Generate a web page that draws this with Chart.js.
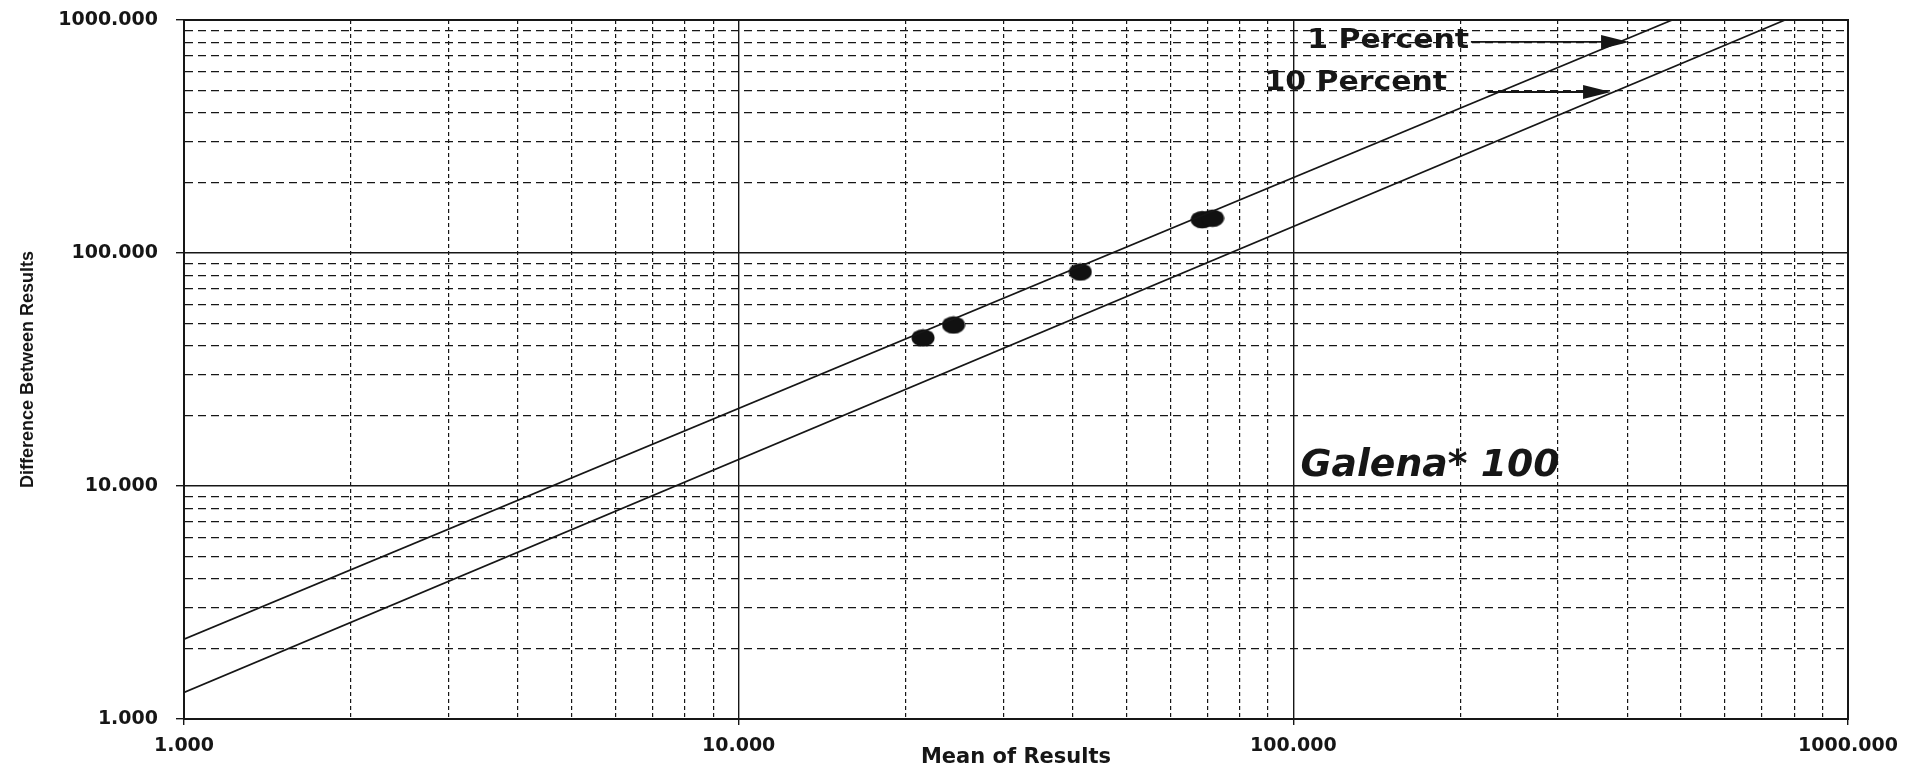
<!DOCTYPE html>
<html>
<head>
<meta charset="utf-8">
<script src="https://cdn.jsdelivr.net/npm/chart.js@4/dist/chart.umd.min.js"></script>
<style>
  html, body { margin: 0; padding: 0; background: #fff; }
</style>
</head>
<body>
<canvas id="myChart" width="1908" height="768"></canvas>
<script>
// gridline positions on both log axes
const tickValues = [1, 2, 3, 4, 5, 6, 7, 8, 9,
                    10, 20, 30, 40, 50, 60, 70, 80, 90,
                    100, 200, 300, 400, 500, 600, 700, 800, 900, 1000];
const majorValues = [1, 10, 100, 1000];
const majorLabels = ['1.000', '10.000', '100.000', '1000.000'];

// measured points (Galena*100)
const meanResults = [21.5, 24.4, 41.3, 68.5, 71.5];
const diffResults = [43.2, 49.1, 82.9, 139, 141];

// reference lines
const onePercentX = [1, 482];
const onePercentY = [2.2, 1000];
const tenPercentX = [1, 770];
const tenPercentY = [1.3, 1000];

// annotation anchors, in data units
const notes = [
    { text: '1 Percent',  x: 106,  y: 813, size: 26, stretch: 1.15, italic: false },
    { text: '10 Percent', x: 88.7, y: 537, size: 26, stretch: 1.15, italic: false },
    { text: 'Galena* 100', x: 103, y: 12.1, size: 37, stretch: 1.02, italic: true }
];
const arrows = [
    { x1: 209, x2: 403, y: 805 },
    { x1: 224, x2: 374, y: 491 }
];

const isMajor = v => majorValues.includes(v);
const ink = '#161616';

// elliptic dot used as point style
const dot = document.createElement('canvas');
dot.width = 24; dot.height = 19;
const dctx = dot.getContext('2d');
dctx.fillStyle = '#111';
dctx.beginPath();
dctx.ellipse(12, 9.5, 11.5, 8.8, 0, 0, Math.PI * 2);
dctx.fill();

const framePlugin = {
    id: 'frame',
    afterDatasetsDraw(chart) {
        const { ctx, chartArea: a, scales } = chart;
        ctx.save();
        ctx.strokeStyle = ink;
        ctx.lineWidth = 2;
        ctx.strokeRect(a.left, a.top, a.right - a.left, a.bottom - a.top);

        // arrows
        ctx.fillStyle = ink;
        ctx.lineWidth = 1.8;
        arrows.forEach(ar => {
            const x1 = scales.x.getPixelForValue(ar.x1);
            const x2 = scales.x.getPixelForValue(ar.x2);
            const y = scales.y.getPixelForValue(ar.y);
            ctx.beginPath();
            ctx.moveTo(x1, y);
            ctx.lineTo(x2 - 20, y);
            ctx.stroke();
            ctx.beginPath();
            ctx.moveTo(x2, y);
            ctx.lineTo(x2 - 28, y - 7);
            ctx.lineTo(x2 - 28, y + 7);
            ctx.closePath();
            ctx.fill();
        });

        // labels
        notes.forEach(n => {
            const x = scales.x.getPixelForValue(n.x);
            const y = scales.y.getPixelForValue(n.y);
            ctx.save();
            ctx.translate(x, y);
            ctx.scale(n.stretch, 1);
            ctx.font = (n.italic ? 'oblique ' : '') + 'bold ' + n.size + 'px "DejaVu Sans"';
            ctx.textAlign = 'left';
            ctx.textBaseline = 'middle';
            ctx.fillStyle = ink;
            ctx.fillText(n.text, 0, 0);
            ctx.restore();
        });
        ctx.restore();
    }
};

const setTicks = s => { s.ticks = tickValues.map(v => ({ value: v, major: isMajor(v) })); };
const tickFont = { family: 'DejaVu Sans', weight: 'bold', size: 19 };

new Chart(document.getElementById('myChart'), {
    type: 'scatter',
    data: {
        datasets: [
            {
                type: 'line',
                label: '1 Percent',
                data: onePercentX.map((x, i) => ({ x, y: onePercentY[i] })),
                borderColor: ink,
                borderWidth: 1.7,
                pointRadius: 0,
                fill: false
            },
            {
                type: 'line',
                label: '10 Percent',
                data: tenPercentX.map((x, i) => ({ x, y: tenPercentY[i] })),
                borderColor: ink,
                borderWidth: 1.7,
                pointRadius: 0,
                fill: false
            },
            {
                label: 'Galena*100',
                data: meanResults.map((x, i) => ({ x, y: diffResults[i] })),
                pointStyle: dot,
                pointRadius: 10,
                showLine: false
            }
        ]
    },
    options: {
        responsive: false,
        animation: false,
        layout: { padding: { left: 0, top: 20, right: 60, bottom: 0 } },
        plugins: { legend: { display: false }, tooltip: { enabled: false } },
        scales: {
            x: {
                type: 'logarithmic',
                min: 1,
                max: 1000,
                afterBuildTicks: setTicks,
                afterFit: s => { s.height = 49; },
                ticks: {
                    autoSkip: false,
                    maxRotation: 0,
                    padding: 10,
                    color: ink,
                    font: tickFont,
                    callback: v => isMajor(v) ? majorLabels[majorValues.indexOf(v)] : ''
                },
                grid: {
                    color: ink,
                    lineWidth: c => isMajor(c.tick.value) ? 1.4 : 1.2,
                    tickLength: 6,
                    tickColor: c => isMajor(c.tick.value) ? ink : 'rgba(0,0,0,0)'
                },
                border: {
                    display: true,
                    color: ink,
                    width: 2,
                    dash: c => (c.tick && !isMajor(c.tick.value)) ? [4, 3] : []
                },
                title: {
                    display: true,
                    text: 'Mean of Results',
                    color: ink,
                    font: { family: 'DejaVu Sans', weight: 'bold', size: 21, lineHeight: 1 },
                    padding: { top: 0, bottom: 0 }
                }
            },
            y: {
                type: 'logarithmic',
                min: 1,
                max: 1000,
                afterBuildTicks: setTicks,
                afterFit: s => { s.width = 184; s.paddingTop = 0; s.paddingBottom = 0; },
                ticks: {
                    autoSkip: false,
                    padding: 18,
                    color: ink,
                    font: tickFont,
                    callback: v => isMajor(v) ? majorLabels[majorValues.indexOf(v)] : ''
                },
                grid: {
                    color: ink,
                    lineWidth: c => isMajor(c.tick.value) ? 1.4 : 1.2,
                    tickLength: 8,
                    tickColor: c => isMajor(c.tick.value) ? ink : 'rgba(0,0,0,0)'
                },
                border: {
                    display: true,
                    color: ink,
                    width: 2,
                    dash: c => (c.tick && !isMajor(c.tick.value)) ? [8, 5] : []
                },
                title: {
                    display: true,
                    text: 'Difference Between Results',
                    color: ink,
                    font: { family: 'Liberation Sans', weight: 'bold', size: 18 },
                    padding: { top: 17, bottom: 0 }
                }
            }
        }
    },
    plugins: [framePlugin]
});
</script>
</body>
</html>
